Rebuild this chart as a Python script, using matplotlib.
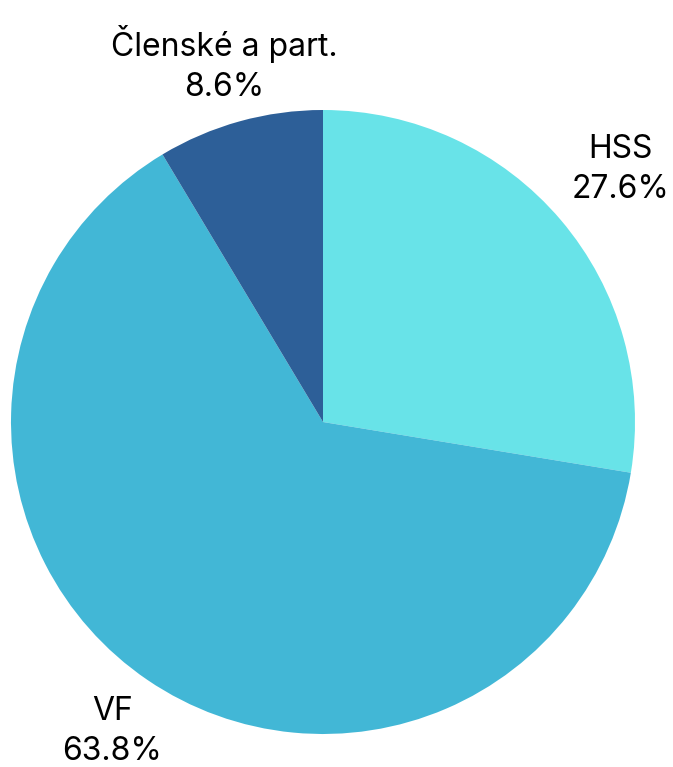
import numpy as np
import matplotlib.pyplot as plt

labels = ['HSS', 'VF', 'Členské a part.']
values = [27.6, 63.8, 8.6]
colors = ['#68E3E8', '#42B7D6', '#2D5F98']

plt.rcParams['font.family'] = ['Inter', 'DejaVu Sans']

fig = plt.figure(figsize=(6.73, 7.67), dpi=100)
ax = fig.add_axes([0, 0, 1, 1])

cx, cy, r = 323, 345, 312
wedges, _ = ax.pie(values, colors=colors, startangle=90, counterclock=False,
                   center=(cx, cy), radius=r, frame=True)
ax.set_xlim(0, 673)
ax.set_ylim(0, 767)
ax.axis('off')

dist = [1.25, 1.2, 1.19]
for w, lab, v, d in zip(wedges, labels, values, dist):
    ang = np.deg2rad((w.theta1 + w.theta2) / 2)
    x = cx + d * r * np.cos(ang)
    y = cy + d * r * np.sin(ang)
    ax.text(x, y, f'{lab}\n{v}%', ha='center', va='center', fontsize=23,
            linespacing=1.4, color='black')

fig.savefig('out.png', dpi=100)
